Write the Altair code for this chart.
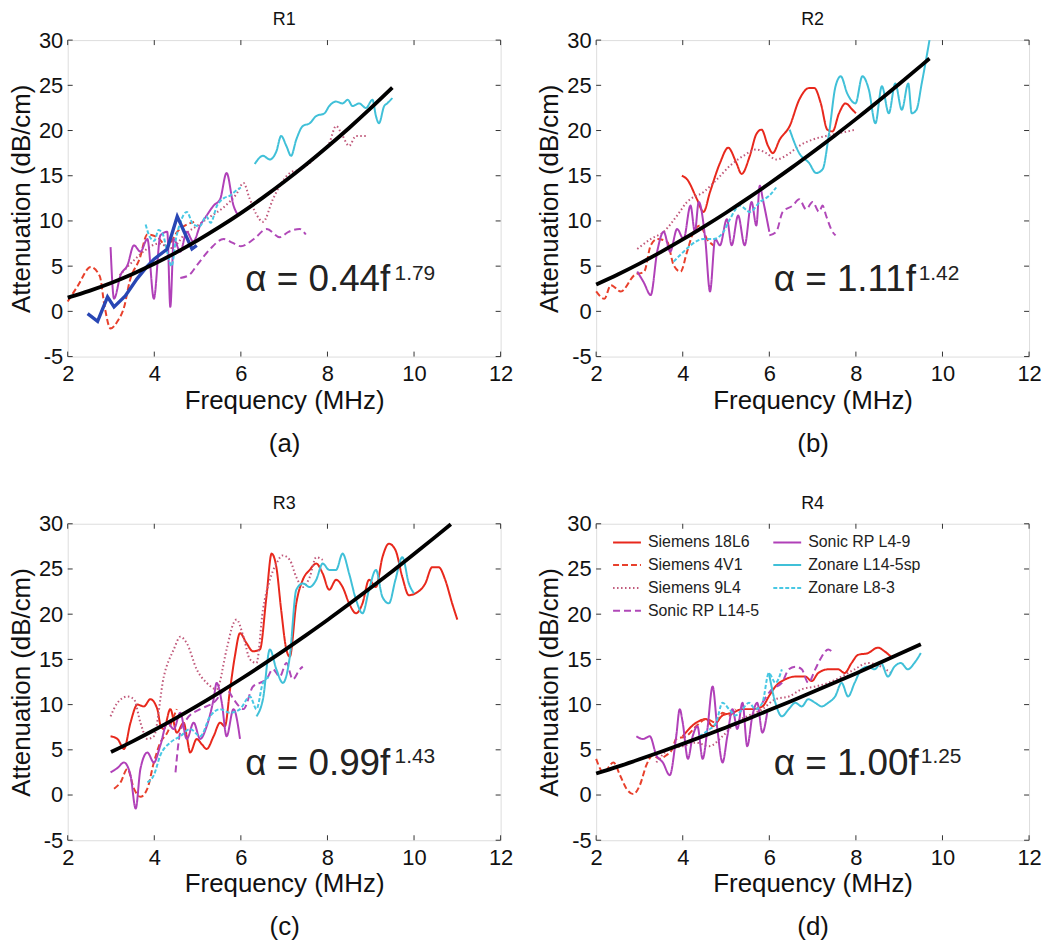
import altair as alt
import pandas as pd

FONT = "Liberation Sans"

# legend order: the 2-column legend fills column by column
SERIES = ["Siemens 18L6", "Siemens 4V1", "Siemens 9L4", "Sonic RP L14-5",
          "Sonic RP L4-9", "Zonare L14-5sp", "Zonare L8-3"]
COLORS = {"Siemens 18L6": "#e8281c", "Siemens 4V1": "#e8402c", "Siemens 9L4": "#c0587a",
          "Sonic RP L14-5": "#b048b8", "Sonic RP L4-9": "#b040b8",
          "Zonare L14-5sp": "#40c0d8", "Zonare L8-3": "#48c8e4"}
DASHES = {"Siemens 18L6": [1, 0], "Siemens 4V1": [6, 3], "Siemens 9L4": [1.5, 2.5],
          "Sonic RP L14-5": [7, 4], "Sonic RP L4-9": [1, 0],
          "Zonare L14-5sp": [1, 0], "Zonare L8-3": [4, 2]}

X_TICKS = [2, 4, 6, 8, 10, 12]
Y_TICKS = [-5, 0, 5, 10, 15, 20, 25, 30]

# ---------------- R1 ----------------
R1_4V1 = [(2.0, 1.1), (2.23, 2.8), (2.53, 4.9), (2.74, 3.9), (2.85, 0.6), (2.99, -1.9),
          (3.15, -1.1), (3.31, 0.6), (3.43, 3.3), (3.66, 5.8), (3.84, 8.5), (4.07, 8.2),
          (4.3, 7.2), (4.53, 8.8), (4.92, 9.9)]
R1_9L4 = [(3.2, 4.0), (3.5, 5.5), (3.8, 6.8), (4.1, 7.5), (4.4, 7.0), (4.7, 8.5), (5.0, 9.5),
          (5.3, 10.5), (5.6, 11.5), (5.9, 13.0), (6.06, 14.2), (6.2, 12.5), (6.35, 10.8),
          (6.51, 9.9), (6.74, 12.4), (6.9, 13.9), (7.13, 15.3), (7.36, 15.7), (7.59, 16.4),
          (7.82, 17.5), (8.04, 18.6), (8.2, 20.5), (8.35, 19.4), (8.5, 18.3), (8.66, 19.4),
          (8.89, 19.4)]
R1_L145 = [(4.6, 3.7), (4.8, 4.0), (5.0, 5.2), (5.29, 6.9), (5.6, 8.0), (5.8, 7.6), (6.0, 7.2),
           (6.3, 8.0), (6.6, 9.1), (6.9, 8.2), (7.1, 8.8), (7.36, 9.1), (7.5, 8.5)]
R1_L49 = [(2.99, 7.1), (3.07, 1.4), (3.22, 4.0), (3.38, 5.1), (3.53, 7.3), (3.68, 6.6),
          (3.84, 8.0), (3.99, 1.4), (4.14, 8.4), (4.3, 8.8), (4.37, 0.5), (4.45, 8.0),
          (4.6, 6.6), (4.75, 8.8), (4.9, 7.7), (5.06, 9.5), (5.21, 10.6), (5.37, 11.7),
          (5.52, 12.4), (5.67, 15.3), (5.83, 11.7), (5.94, 10.6)]
R1_L145SP = [(6.32, 16.3), (6.51, 17.2), (6.67, 16.8), (6.82, 17.7), (6.93, 19.4), (7.05, 18.3),
             (7.16, 17.2), (7.28, 19.0), (7.43, 20.5), (7.59, 20.8), (7.74, 21.6), (7.93, 21.9),
             (8.04, 22.7), (8.2, 23.2), (8.35, 23.0), (8.47, 23.4), (8.58, 22.7), (8.73, 23.0),
             (8.89, 22.5), (9.04, 23.4), (9.12, 21.6), (9.19, 20.8), (9.31, 22.7), (9.38, 23.0),
             (9.5, 23.6)]
R1_L83 = [(3.8, 9.6), (3.9, 8.2), (4.0, 7.8), (4.1, 9.0), (4.2, 8.5), (4.3, 6.5), (4.4, 5.0),
          (4.5, 8.0), (4.6, 9.8), (4.75, 11.0), (4.9, 9.6), (5.05, 9.4), (5.2, 10.5), (5.3, 9.8),
          (5.45, 11.7), (5.6, 12.5), (5.75, 12.8), (5.9, 13.4), (6.0, 13.7)]
R1_EXTRA = [(2.46, -0.25), (2.69, -1.1), (2.92, 1.6), (3.07, 0.5), (3.33, 1.7), (3.6, 3.6),
            (3.84, 5.0), (4.0, 5.8), (4.3, 6.9), (4.53, 10.5), (4.69, 8.8), (4.87, 6.9),
            (4.98, 7.3)]
R1_FIT = [(2, 1.52), (2.5, 2.27), (3, 3.14), (3.5, 4.14), (4, 5.26), (4.5, 6.50), (5, 7.85),
          (5.5, 9.31), (6, 10.87), (6.5, 12.55), (7, 14.33), (7.5, 16.21), (8, 18.20),
          (8.5, 20.28), (9, 22.47), (9.5, 24.75)]

# ---------------- R2 ----------------
R2_18L6 = [(3.98, 15.0), (4.1, 14.6), (4.33, 12.4), (4.48, 11.0), (4.63, 13.2), (4.86, 16.4),
           (5.05, 18.1), (5.24, 16.4), (5.36, 15.2), (5.55, 17.2), (5.7, 19.6), (5.82, 20.1),
           (5.97, 18.3), (6.08, 17.5), (6.24, 19.0), (6.47, 20.5), (6.69, 23.4), (6.92, 24.7),
           (7.04, 24.7), (7.19, 23.0), (7.34, 20.1), (7.46, 19.9), (7.61, 21.9), (7.76, 23.0),
           (7.92, 22.3), (8.0, 21.9)]
R2_4V1 = [(2.0, 2.2), (2.19, 1.4), (2.34, 2.9), (2.57, 2.2), (2.88, 4.0), (3.11, 4.4),
          (3.26, 7.3), (3.41, 8.0), (3.64, 7.7), (3.79, 5.1), (3.95, 4.4), (4.1, 6.6),
          (4.25, 8.8), (4.4, 9.5), (4.56, 8.0), (4.71, 7.3)]
R2_9L4 = [(2.95, 6.9), (3.26, 8.0), (3.56, 8.8), (3.87, 10.6), (4.1, 12.1), (4.48, 13.2),
          (4.79, 14.6), (5.09, 16.1), (5.4, 17.2), (5.7, 17.9), (5.93, 17.5), (6.16, 16.8),
          (6.47, 17.5), (6.69, 18.3), (7.0, 19.0), (7.31, 19.4), (7.61, 19.7), (8.0, 20.1)]
R2_L49 = [(2.95, 4.4), (3.1, 3.2), (3.26, 1.8), (3.41, 6.6), (3.56, 8.8), (3.71, 6.6),
          (3.87, 9.1), (4.02, 8.0), (4.18, 11.7), (4.28, 8.8), (4.37, 12.1), (4.52, 8.0),
          (4.63, 2.2), (4.75, 8.0), (4.86, 7.3), (5.02, 10.2), (5.13, 7.3), (5.28, 10.6),
          (5.43, 7.3), (5.59, 12.1), (5.7, 9.5), (5.78, 13.9), (5.85, 12.4), (6.0, 8.8)]
R2_L145 = [(6.0, 8.4), (6.16, 8.8), (6.31, 11.0), (6.54, 11.7), (6.69, 12.4), (6.85, 11.3),
           (7.0, 12.1), (7.15, 11.0), (7.23, 11.7), (7.31, 10.6), (7.46, 8.8), (7.53, 8.4)]
R2_L145SP = [(6.47, 20.1), (6.69, 17.5), (6.92, 16.4), (7.08, 15.3), (7.23, 15.7), (7.38, 19.7),
             (7.53, 24.9), (7.65, 26.0), (7.8, 24.1), (7.99, 23.0), (8.15, 26.0), (8.3, 24.5),
             (8.45, 20.8), (8.6, 24.9), (8.76, 21.9), (8.91, 25.2), (9.06, 22.3), (9.21, 25.2),
             (9.29, 21.9), (9.4, 22.3), (9.52, 25.2), (9.7, 30.0)]
R2_L83 = [(3.79, 5.5), (4.02, 6.6), (4.18, 7.3), (4.48, 8.0), (4.71, 8.0), (4.94, 8.8),
          (5.09, 10.2), (5.32, 11.7), (5.55, 11.0), (5.78, 12.1), (6.0, 12.8), (6.16, 13.7)]
R2_FIT = [(2, 2.97), (2.5, 4.08), (3, 5.28), (3.5, 6.58), (4, 7.95), (4.5, 9.40), (5, 10.91),
          (5.5, 12.49), (6, 14.14), (6.5, 15.84), (7, 17.60), (7.5, 19.40), (8, 21.26),
          (8.5, 23.18), (9, 25.14), (9.5, 27.15), (9.7, 27.96)]

# ---------------- R3 ----------------
R3_18L6 = [(2.99, 6.5), (3.15, 6.2), (3.3, 5.1), (3.45, 8.0), (3.61, 10.0), (3.76, 9.8),
           (3.91, 10.6), (4.07, 9.5), (4.15, 7.6), (4.22, 7.3), (4.37, 9.5), (4.52, 6.9),
           (4.68, 8.0), (4.75, 6.5), (4.83, 4.7), (4.98, 6.2), (5.1, 5.6), (5.21, 5.1),
           (5.37, 6.5), (5.52, 8.0), (5.63, 7.6), (5.75, 11.7), (5.86, 15.3), (5.98, 17.9),
           (6.13, 16.8), (6.28, 15.9), (6.44, 16.1), (6.59, 21.9), (6.71, 26.7), (6.82, 25.2),
           (6.93, 20.5), (7.05, 16.1), (7.13, 15.3), (7.28, 21.2), (7.43, 23.8), (7.59, 24.9),
           (7.74, 25.6), (7.89, 24.5), (8.04, 22.7), (8.2, 23.8), (8.35, 23.0), (8.5, 21.2),
           (8.66, 20.1), (8.81, 21.2), (8.96, 23.8), (9.12, 23.0), (9.27, 26.3), (9.42, 27.8),
           (9.57, 27.1), (9.73, 24.1), (9.88, 22.1), (10.03, 22.3), (10.26, 23.4),
           (10.42, 25.2), (10.57, 25.2), (10.72, 23.8), (10.88, 21.2), (11.0, 19.4)]
R3_4V1 = [(3.07, 0.7), (3.22, 1.4), (3.38, 2.9), (3.53, 0.7), (3.68, -0.2), (3.84, 0.7),
          (3.99, 3.6), (4.14, 5.8), (4.3, 6.9), (4.45, 8.7), (4.52, 9.5)]
R3_9L4 = [(2.99, 8.7), (3.15, 10.2), (3.38, 10.9), (3.53, 10.6), (3.68, 8.0), (3.84, 6.2),
          (3.99, 6.5), (4.22, 13.1), (4.45, 16.1), (4.6, 17.5), (4.75, 16.8), (4.98, 13.9),
          (5.21, 12.4), (5.44, 11.7), (5.67, 16.1), (5.83, 19.0), (5.9, 19.4), (6.06, 17.5),
          (6.21, 15.0), (6.36, 14.6), (6.51, 20.5), (6.67, 23.8), (6.82, 25.6), (6.97, 26.5),
          (7.13, 26.0), (7.28, 24.1), (7.43, 23.0), (7.59, 24.1), (7.74, 26.3), (7.89, 26.0)]
R3_L49 = [(2.99, 2.5), (3.15, 3.0), (3.3, 3.6), (3.45, 2.2), (3.57, -1.5), (3.68, 2.9),
          (3.84, 4.7), (3.99, 3.6), (4.14, 5.5), (4.3, 8.0), (4.45, 7.3), (4.6, 9.1),
          (4.75, 6.2), (4.91, 8.0), (5.06, 6.2), (5.21, 7.6), (5.37, 10.6), (5.44, 12.4),
          (5.56, 10.2), (5.67, 6.5), (5.83, 9.5), (5.98, 6.2)]
R3_L145 = [(4.49, 2.5), (4.6, 7.0), (4.75, 8.4), (5.06, 9.5), (5.37, 10.2), (5.67, 11.7),
           (5.83, 10.6), (6.06, 9.5), (6.28, 12.0), (6.44, 12.4), (6.59, 12.8), (6.74, 13.9),
           (6.9, 13.1), (7.05, 14.6), (7.2, 12.8), (7.36, 13.9), (7.43, 14.2)]
R3_L145SP = [(6.36, 8.7), (6.51, 10.6), (6.67, 16.1), (6.82, 13.9), (6.97, 12.4), (7.13, 15.3),
             (7.28, 22.7), (7.43, 23.4), (7.59, 23.0), (7.74, 23.8), (7.89, 25.6), (8.04, 24.9),
             (8.2, 24.9), (8.35, 26.7), (8.5, 24.5), (8.66, 21.6), (8.81, 20.1), (8.96, 22.7),
             (9.12, 24.9), (9.27, 21.9), (9.42, 21.2), (9.57, 23.8), (9.73, 26.3), (9.88, 23.4),
             (10.0, 22.3)]
R3_L83 = [(3.84, 1.4), (3.99, 2.2), (4.14, 4.4), (4.37, 5.8), (4.6, 6.5), (4.83, 7.3),
          (5.06, 6.5), (5.29, 8.7), (5.52, 9.5), (5.75, 9.1), (5.98, 9.5), (6.21, 10.9),
          (6.36, 9.5), (6.51, 12.4), (6.67, 13.1)]
R3_FIT = [(3, 4.76), (3.5, 5.94), (4, 7.19), (4.5, 8.51), (5, 9.89), (5.5, 11.33), (6, 12.83),
          (6.5, 14.39), (7, 16.00), (7.5, 17.66), (8, 19.36), (8.5, 21.12), (9, 22.92),
          (9.5, 24.76), (10, 26.65), (10.5, 28.58), (10.85, 29.95)]

# ---------------- R4 ----------------
R4_18L6 = [(4.0, 6.5), (4.31, 8.0), (4.54, 8.4), (4.69, 7.6), (4.92, 8.8), (5.15, 9.1),
           (5.38, 9.5), (5.61, 9.5), (5.84, 9.8), (6.0, 11.0), (6.14, 12.0), (6.37, 12.8),
           (6.6, 13.1), (6.83, 13.1), (6.98, 12.6), (7.13, 13.5), (7.36, 13.9), (7.59, 13.9),
           (7.74, 13.5), (7.9, 14.6), (8.05, 15.5), (8.28, 15.7), (8.51, 16.3), (8.66, 15.9),
           (8.81, 15.3)]
R4_4V1 = [(2.0, 4.0), (2.17, 2.5), (2.4, 3.6), (2.55, 2.2), (2.7, 0.7), (2.86, 0.1), (3.01, 1.1),
          (3.16, 3.3), (3.31, 4.4), (3.46, 4.0), (3.62, 4.4), (3.75, 5.0), (3.85, 6.2),
          (4.08, 6.5), (4.31, 7.6), (4.54, 8.4), (4.77, 8.0), (4.92, 9.1), (5.07, 8.8),
          (5.22, 9.5)]
R4_9L4 = [(3.39, 3.6), (3.7, 5.1), (4.0, 5.4), (4.31, 5.8), (4.61, 5.4), (4.92, 6.5),
          (5.22, 8.0), (5.53, 8.8), (5.84, 9.5), (6.14, 10.6), (6.45, 10.9), (6.75, 11.7),
          (7.06, 12.0), (7.36, 12.4), (7.67, 13.1), (7.97, 13.9), (8.28, 14.6), (8.58, 14.2),
          (8.81, 13.5)]
R4_L49 = [(2.93, 6.5), (3.08, 6.2), (3.24, 6.5), (3.39, 4.4), (3.54, 3.6), (3.7, 2.2),
          (3.85, 6.5), (3.93, 9.5), (4.0, 8.0), (4.12, 4.0), (4.23, 6.5), (4.34, 7.6),
          (4.46, 4.0), (4.57, 7.3), (4.69, 12.0), (4.8, 7.3), (4.92, 3.6), (5.03, 6.5),
          (5.15, 9.5), (5.26, 7.3), (5.38, 10.2), (5.49, 5.4), (5.61, 8.8), (5.72, 10.2),
          (5.84, 6.9), (5.95, 9.1)]
R4_L145 = [(5.84, 10.2), (6.06, 11.7), (6.29, 12.4), (6.45, 13.9), (6.6, 14.2), (6.75, 13.9),
           (6.9, 12.4), (7.06, 13.9), (7.21, 15.3), (7.36, 16.1), (7.48, 15.7)]
R4_L145SP = [(5.99, 13.5), (6.14, 10.2), (6.29, 8.7), (6.45, 9.5), (6.6, 10.2), (6.75, 9.8),
             (6.9, 10.6), (7.06, 10.2), (7.21, 9.8), (7.36, 10.2), (7.52, 10.9), (7.67, 12.4),
             (7.82, 10.9), (7.97, 12.4), (8.13, 13.9), (8.28, 14.2), (8.43, 13.9), (8.58, 14.6),
             (8.74, 13.1), (8.89, 14.2), (9.04, 14.6), (9.2, 13.9), (9.35, 14.6), (9.5, 15.7)]
R4_L83 = [(4.38, 6.5), (4.6, 7.2), (4.77, 8.0), (4.92, 10.2), (5.07, 9.5), (5.22, 8.8),
          (5.38, 9.5), (5.53, 10.2), (5.68, 9.5), (5.84, 10.2), (5.99, 13.5), (6.14, 12.4),
          (6.29, 13.9)]
R4_FIT = [(2, 2.38), (2.5, 3.14), (3, 3.95), (3.5, 4.79), (4, 5.66), (4.5, 6.55), (5, 7.48),
          (5.5, 8.42), (6, 9.39), (6.5, 10.38), (7, 11.39), (7.5, 12.41), (8, 13.45),
          (8.5, 14.52), (9, 15.59), (9.5, 16.68)]

W, H = 435, 318
TICK = 5


def series_df(pairs):
    rows = []
    for name, pts in pairs:
        for i, (x, y) in enumerate(pts):
            rows.append({"series": name, "i": i, "x": x, "y": y})
    return pd.DataFrame(rows)


def pts_df(pts):
    return pd.DataFrame([{"i": i, "x": x, "y": y} for i, (x, y) in enumerate(pts)])


HYPHEN = "datum.value < 0 ? '-' + (-datum.value) : datum.label"


def panel(title, caption, pairs, fit, main_txt, sup_txt, sup_x, extra=None, legend=False):
    xs = alt.Scale(domain=[2, 12], nice=False, zero=False)
    ys = alt.Scale(domain=[-5, 30], nice=False, zero=False)
    xax = alt.Axis(values=X_TICKS, title=["Frequency (MHz)", caption], ticks=False, domain=False,
                   grid=False, labelFont=FONT, labelFontSize=22, labelColor="#111",
                   labelFlush=False, labelPadding=7, labelExpr=HYPHEN,
                   titleFont=FONT, titleFontSize=26,
                   titleFontWeight="normal", titleColor="#111", titleLineHeight=43,
                   titlePadding=3)
    yax = alt.Axis(values=Y_TICKS, title="Attenuation (dB/cm)", ticks=False, domain=False,
                   grid=False, labelFont=FONT, labelFontSize=22, labelColor="#111",
                   labelFlush=False, labelPadding=5, labelExpr=HYPHEN,
                   titleFont=FONT, titleFontSize=26,
                   titleFontWeight="normal", titleColor="#111", titlePadding=4)
    if legend:
        leg = alt.Legend(title=None, orient="none", legendX=16, legendY=11, columns=2,
                         symbolType="stroke", symbolSize=784, symbolStrokeWidth=2,
                         clipHeight=15, rowPadding=6, columnPadding=12,
                         labelFont=FONT, labelFontSize=16, labelColor="#222",
                         labelOffset=6, padding=0, labelLimit=300)
    else:
        leg = None
    dom = SERIES
    color = alt.Color("series:N", scale=alt.Scale(domain=dom, range=[COLORS[s] for s in dom]),
                      legend=leg)
    dash = alt.StrokeDash("series:N", scale=alt.Scale(domain=dom, range=[DASHES[s] for s in dom]),
                          legend=leg)

    df = series_df(pairs)
    lines = alt.Chart(df).mark_line(strokeWidth=2, strokeCap="butt",
                                    interpolate="monotone").encode(
        x=alt.X("x:Q", scale=xs, axis=xax),
        y=alt.Y("y:Q", scale=ys, axis=yax),
        color=color, strokeDash=dash, order="i:Q")
    layers = [lines]
    if extra is not None:
        layers.append(alt.Chart(pts_df(extra)).mark_line(
            color="#2846b4", strokeWidth=3.4).encode(x="x:Q", y="y:Q", order="i:Q"))
    layers.append(alt.Chart(pts_df(fit)).mark_line(color="black", strokeWidth=3.8,
                                                   interpolate="monotone").encode(
        x="x:Q", y="y:Q", order="i:Q"))

    txt = pd.DataFrame({"x": [6.1], "y": [2.2], "t": [main_txt]})
    layers.append(alt.Chart(txt).mark_text(align="left", baseline="alphabetic", font=FONT,
                                           fontSize=37, color="#222").encode(
        x="x:Q", y="y:Q", text="t:N"))
    sup = pd.DataFrame({"x": [sup_x], "y": [3.5], "t": [sup_txt]})
    layers.append(alt.Chart(sup).mark_text(align="left", baseline="alphabetic", font=FONT,
                                           fontSize=21, color="#222").encode(
        x="x:Q", y="y:Q", text="t:N"))

    # inward ticks on all four sides
    xt = pd.DataFrame({"v": X_TICKS})
    yt = pd.DataFrame({"v": Y_TICKS})
    tk = dict(color="#333", strokeWidth=1)
    layers.append(alt.Chart(xt).mark_rule(**tk).encode(
        x="v:Q", y=alt.value(H), y2=alt.value(H - TICK)))
    layers.append(alt.Chart(xt).mark_rule(**tk).encode(
        x="v:Q", y=alt.value(0), y2=alt.value(TICK)))
    layers.append(alt.Chart(yt).mark_rule(**tk).encode(
        y="v:Q", x=alt.value(0), x2=alt.value(TICK)))
    layers.append(alt.Chart(yt).mark_rule(**tk).encode(
        y="v:Q", x=alt.value(W), x2=alt.value(W - TICK)))

    return alt.layer(*layers).properties(
        width=W, height=H,
        title=alt.TitleParams(title, font=FONT, fontSize=18, fontWeight="normal",
                              color="#111", offset=0, anchor="middle"))


p1 = panel("R1", "(a)", [("Siemens 4V1", R1_4V1), ("Siemens 9L4", R1_9L4),
                         ("Sonic RP L14-5", R1_L145), ("Sonic RP L4-9", R1_L49),
                         ("Zonare L14-5sp", R1_L145SP), ("Zonare L8-3", R1_L83)],
           R1_FIT, "α = 0.44f", "1.79", 9.55, extra=R1_EXTRA)
p2 = panel("R2", "(b)", [("Siemens 18L6", R2_18L6), ("Siemens 4V1", R2_4V1),
                         ("Siemens 9L4", R2_9L4), ("Sonic RP L14-5", R2_L145),
                         ("Sonic RP L4-9", R2_L49), ("Zonare L14-5sp", R2_L145SP),
                         ("Zonare L8-3", R2_L83)],
           R2_FIT, "α = 1.11f", "1.42", 9.45)
p3 = panel("R3", "(c)", [("Siemens 18L6", R3_18L6), ("Siemens 4V1", R3_4V1),
                         ("Siemens 9L4", R3_9L4), ("Sonic RP L14-5", R3_L145),
                         ("Sonic RP L4-9", R3_L49), ("Zonare L14-5sp", R3_L145SP),
                         ("Zonare L8-3", R3_L83)],
           R3_FIT, "α = 0.99f", "1.43", 9.55)
p4 = panel("R4", "(d)", [("Siemens 18L6", R4_18L6), ("Siemens 4V1", R4_4V1),
                         ("Siemens 9L4", R4_9L4), ("Sonic RP L14-5", R4_L145),
                         ("Sonic RP L4-9", R4_L49), ("Zonare L14-5sp", R4_L145SP),
                         ("Zonare L8-3", R4_L83)],
           R4_FIT, "α = 1.00f", "1.25", 9.5, legend=True)

row1 = alt.hconcat(p1, p2, spacing=23).resolve_scale(color="independent", strokeDash="independent")
row2 = alt.hconcat(p3, p4, spacing=23).resolve_scale(color="independent", strokeDash="independent")
chart = alt.vconcat(row1, row2, spacing=37).resolve_scale(
    color="independent", strokeDash="independent").properties(
    padding={"left": 0, "top": 0, "right": 0, "bottom": 0}).configure_view(
    stroke="#333", strokeWidth=1).configure(background="white")

chart.save("out.html", embed_options={"renderer": "svg", "actions": False})
